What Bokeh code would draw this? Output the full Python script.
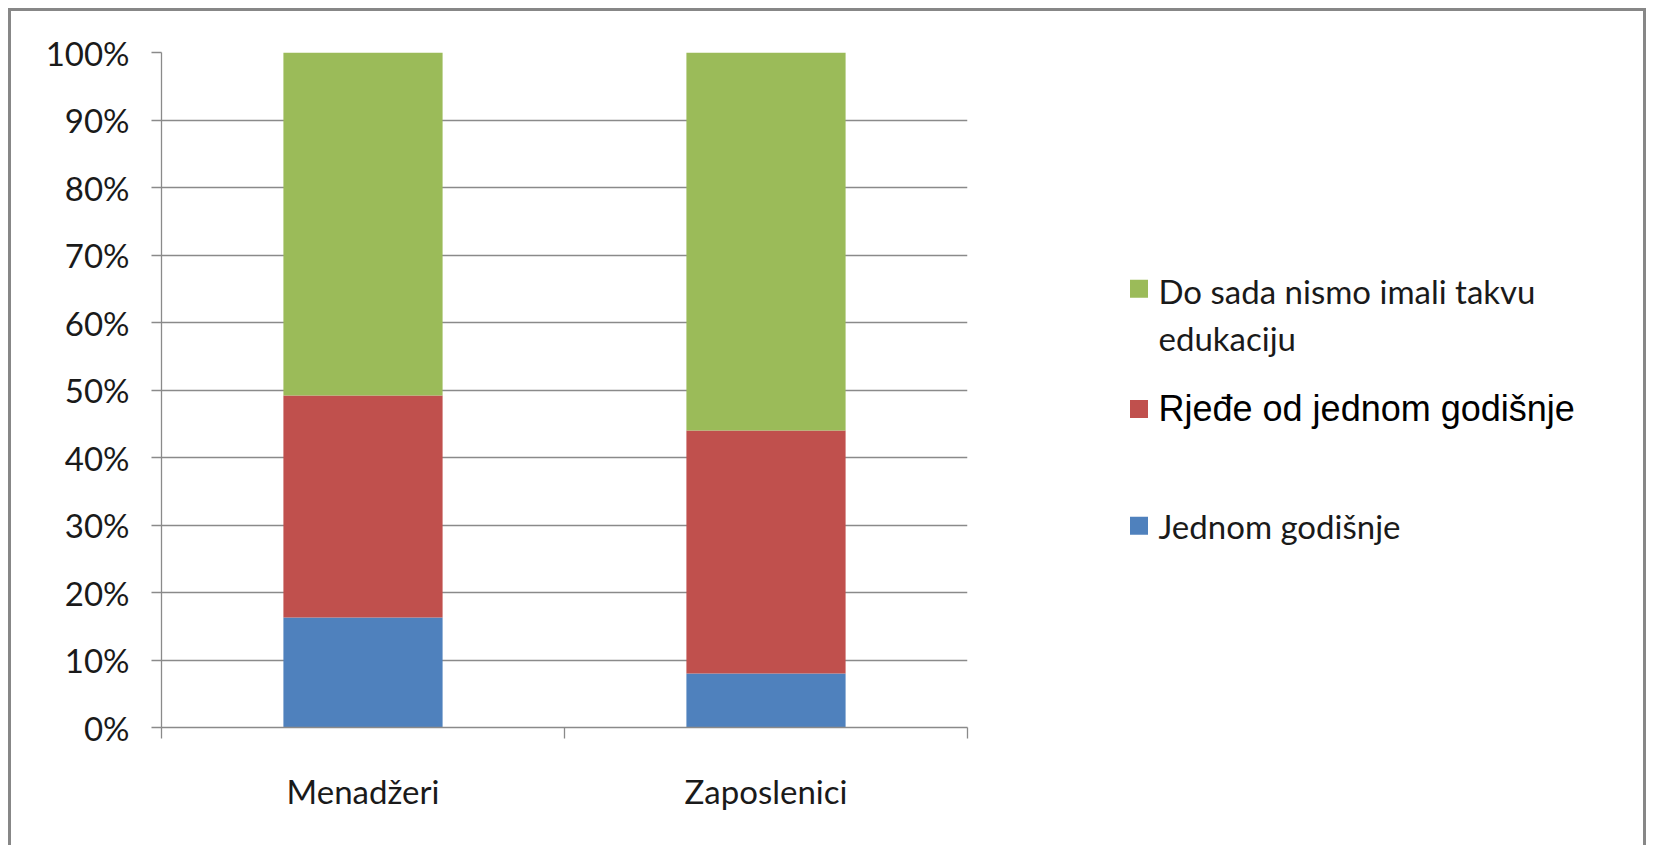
from bokeh.plotting import figure
from bokeh.models import Range1d, FixedTicker, NumeralTickFormatter, ColumnDataSource
from bokeh.layouts import row
from bokeh.core.properties import value
from bokeh.embed import file_html
from bokeh.resources import INLINE

# ---- data ----
categories = ["Menadžeri", "Zaposlenici"]
jednom_godisnje = [16.3, 8.0]
rjede_od_jednom = [32.9, 36.0]
do_sada_nismo = [50.8, 56.0]
y_ticks = [0, 10, 20, 30, 40, 50, 60, 70, 80, 90, 100]
legend_labels = ["Do sada nismo imali takvu\nedukaciju", "Rjeđe od jednom godišnje", "Jednom godišnje"]

colors = ["#4F81BD", "#C0504D", "#9BBB59"]
GRAY = "#8a8a8a"
FONT = "Lato"
FS = "33px"
BORDER = "3px solid #878787"

src = ColumnDataSource(dict(
    x=[i + 0.5 for i in range(len(categories))],
    jednom=[v / 100 for v in jednom_godisnje],
    rjede=[v / 100 for v in rjede_od_jednom],
    nismo=[v / 100 for v in do_sada_nismo],
))

p = figure(width=1089, height=837, x_range=Range1d(0, len(categories)), y_range=Range1d(0, 1),
           output_backend="svg", toolbar_location=None,
           min_border_left=150, min_border_right=133, min_border_top=41, min_border_bottom=121)
p.outline_line_color = None
p.background_fill_color = "white"
p.border_fill_color = "white"

p.vbar_stack(["jednom", "rjede", "nismo"], x="x", width=0.395, color=colors,
             line_color=None, source=src)

# y axis
yt = [t / 100 for t in y_ticks]
p.yaxis.ticker = FixedTicker(ticks=yt)
p.yaxis.formatter = NumeralTickFormatter(format="0%")
p.yaxis.major_tick_out = 10
p.yaxis.major_tick_in = 0
p.yaxis.minor_tick_line_color = None
p.yaxis.axis_line_color = GRAY
p.yaxis.major_tick_line_color = GRAY
p.yaxis.axis_line_width = 1.3
p.yaxis.major_tick_line_width = 1.3
p.yaxis.major_label_text_font = FONT
p.yaxis.major_label_text_font_size = FS
p.yaxis.major_label_text_color = "#1a1a1a"
p.yaxis.major_label_standoff = 22

p.ygrid.ticker = FixedTicker(ticks=yt)
p.ygrid.grid_line_color = GRAY
p.ygrid.grid_line_width = 1.3
p.xgrid.visible = False

# x axis
p.xaxis.ticker = FixedTicker(ticks=[i + 0.5 for i in range(len(categories))],
                             minor_ticks=list(range(len(categories) + 1)))
p.xaxis.major_label_overrides = {i + 0.5: c for i, c in enumerate(categories)}
p.xaxis.major_tick_out = 0
p.xaxis.major_tick_in = 0
p.xaxis.minor_tick_out = 11
p.xaxis.minor_tick_in = 0
p.xaxis.minor_tick_line_color = GRAY
p.xaxis.minor_tick_line_width = 1.3
p.xaxis.axis_line_color = GRAY
p.xaxis.axis_line_width = 1.3
p.xaxis.major_label_text_font = FONT
p.xaxis.major_label_text_font_size = FS
p.xaxis.major_label_text_color = "#1a1a1a"
p.xaxis.major_label_standoff = 32

p.styles = {"border-top": BORDER, "border-left": BORDER}

# legend panel (shares the y scale of the chart frame)
W2, H2 = 549, 837
q = figure(width=W2, height=H2, x_range=Range1d(0, W2), y_range=p.y_range,
           x_axis_type=None, y_axis_type=None,
           output_backend="svg", toolbar_location=None, min_border=0)
q.grid.visible = False
q.outline_line_color = None
q.background_fill_color = "white"
q.border_fill_color = "white"

sq_x = 41.5
txt_x = 61
rows_y = [0.650, 0.472, 0.299]   # vertical placement of legend rows (axis fraction)
line_gap = 0.0695
legend_colors = [colors[2], colors[1], colors[0]]
q.rect(x=[sq_x] * 3, y=rows_y, width=18, height=18, width_units="screen", height_units="screen",
       fill_color=legend_colors, line_color=None)

lines1 = legend_labels[0].split("\n")
q.text(x=[txt_x] * len(lines1), y=[rows_y[0] - 0.003 - line_gap * i for i in range(len(lines1))],
       text=lines1, text_font=value(FONT), text_font_size=FS, text_baseline="middle",
       text_color="#1a1a1a")
q.text(x=[txt_x], y=[rows_y[1]], text=[legend_labels[1]],
       text_font=value("Liberation Sans"), text_font_size="36px", text_baseline="middle", text_color="black")
q.text(x=[txt_x], y=[rows_y[2]], text=[legend_labels[2]],
       text_font=value(FONT), text_font_size=FS, text_baseline="middle", text_color="#1a1a1a")
q.styles = {"border-top": BORDER, "border-right": BORDER}

layout = row(p, q, spacing=0, styles={"margin-left": "8px", "margin-top": "8px"})
open("out.html", "w").write(file_html(layout, INLINE))
